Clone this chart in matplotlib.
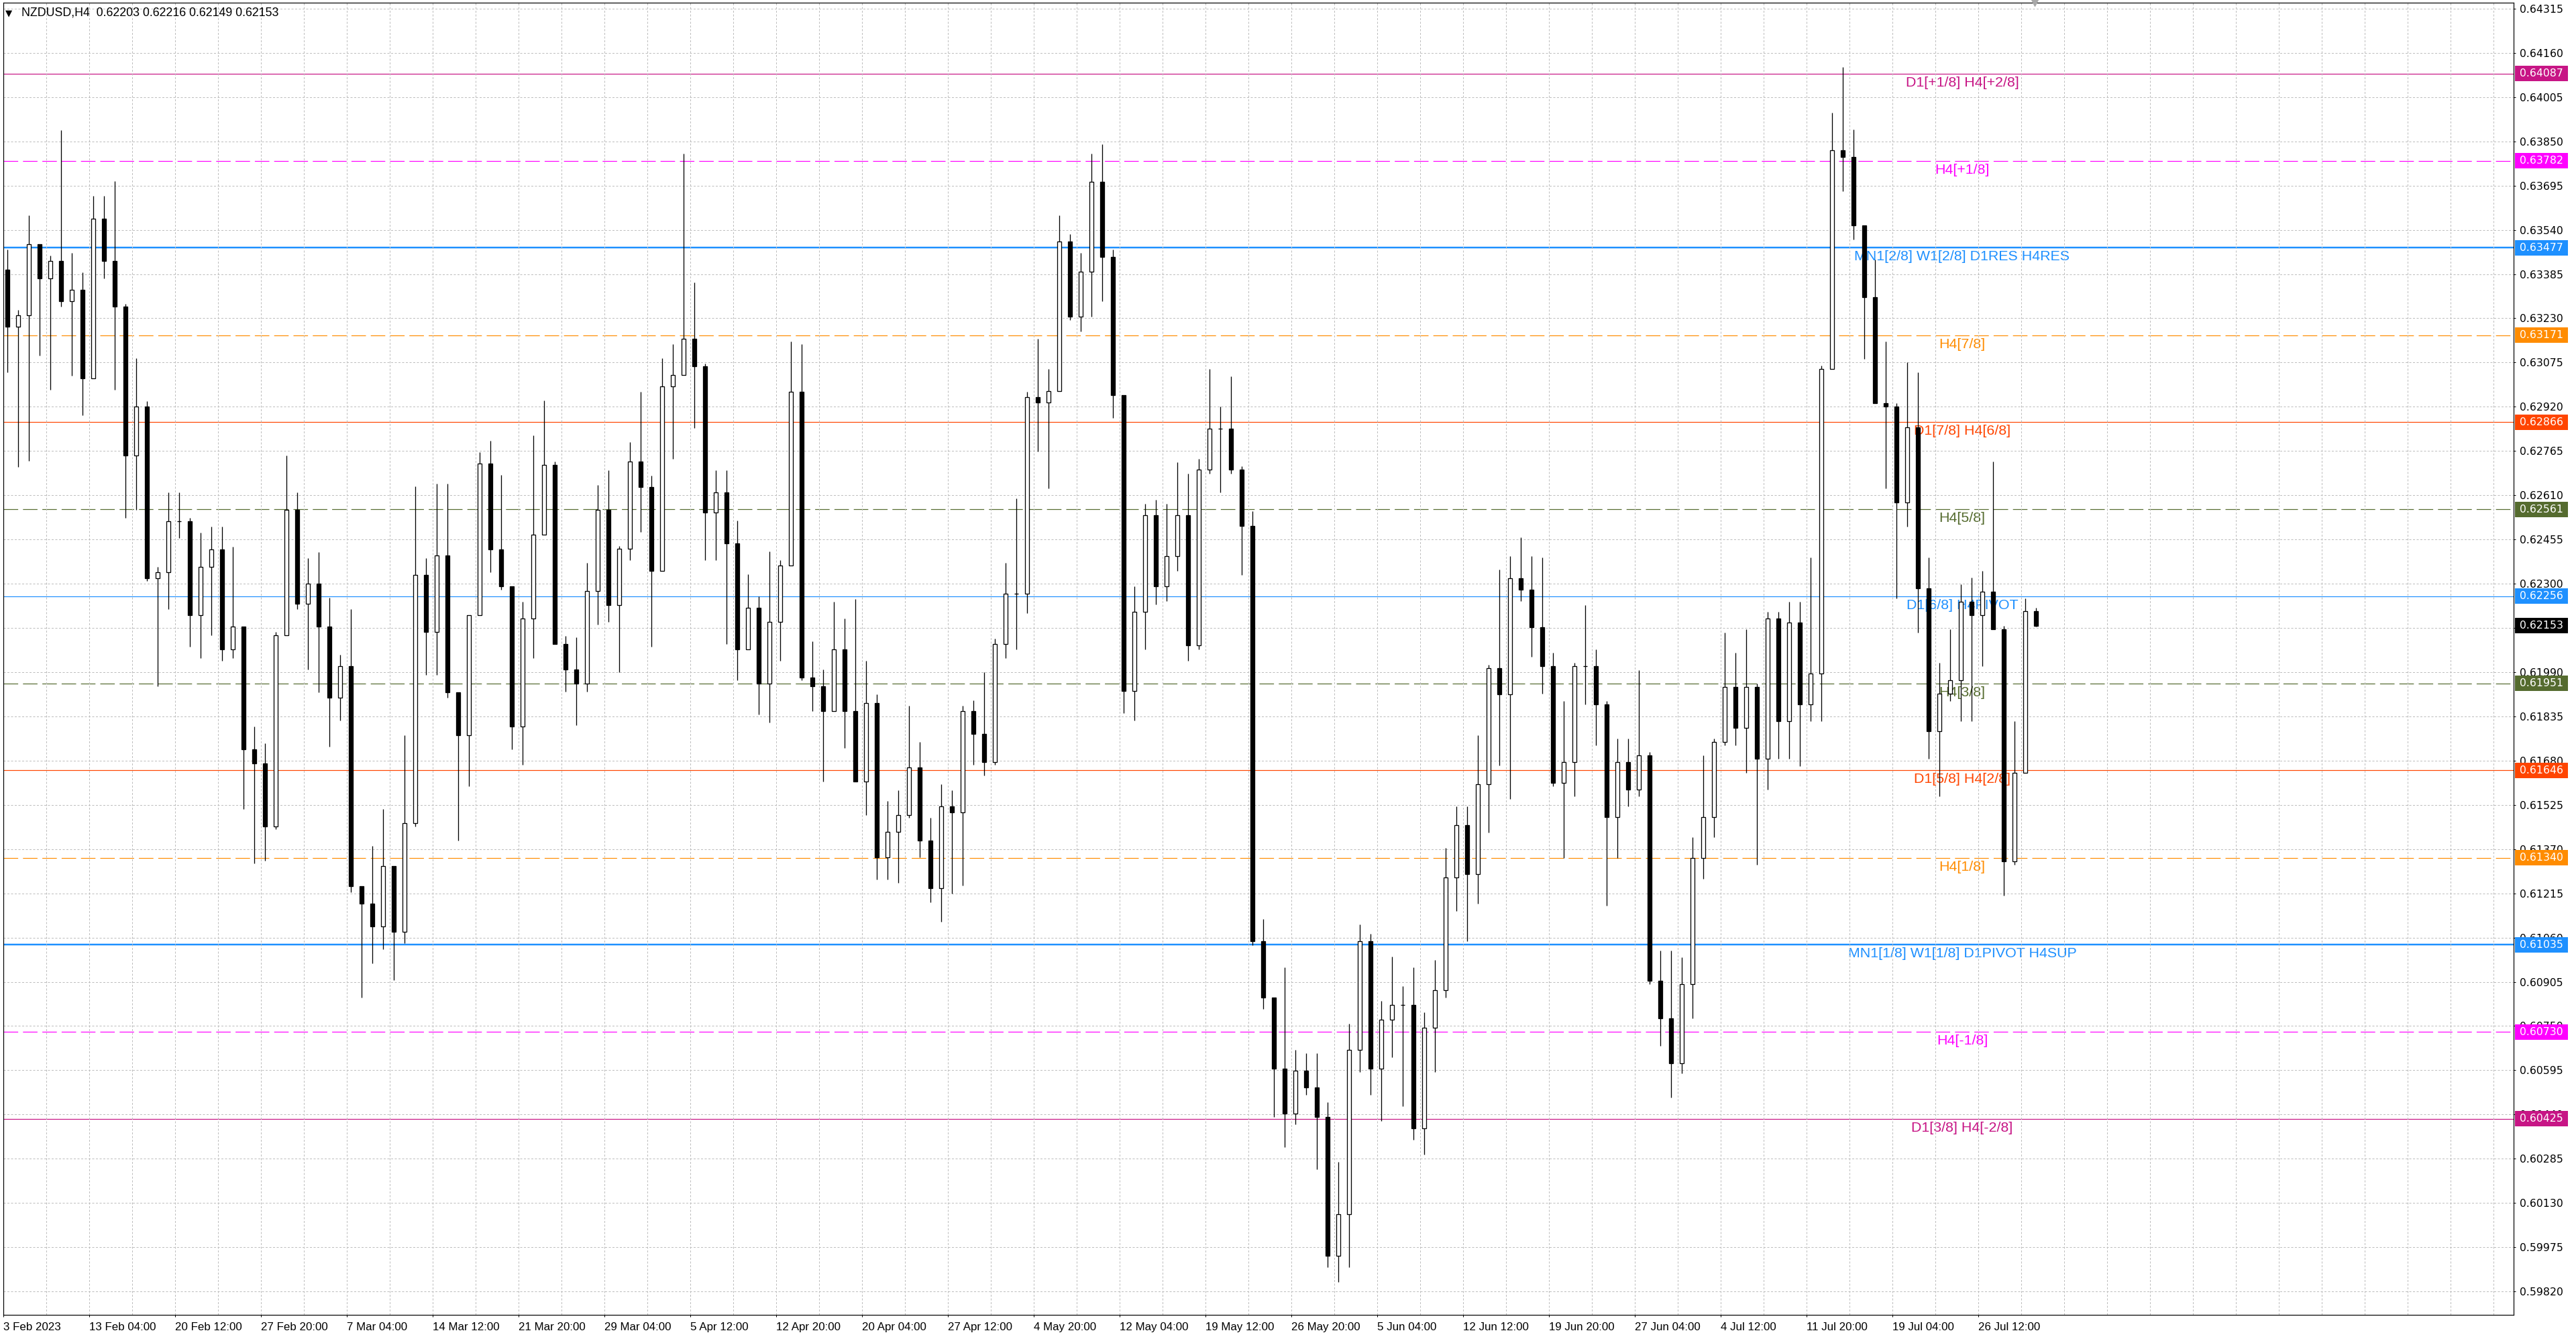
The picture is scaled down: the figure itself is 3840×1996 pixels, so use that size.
import matplotlib
matplotlib.use("Agg")
import matplotlib.pyplot as plt
from matplotlib.patches import Rectangle
from matplotlib.transforms import blended_transform_factory, offset_copy
import numpy as np

# NZDUSD H4, 3 Feb - 31 Jul 2023 in groups of 4 bars
hi = [0.6347, 0.6326, 0.6359, 0.6347, 0.6345, 0.6389, 0.6346, 0.6339, 0.6366, 0.6366,
      0.6371, 0.6328, 0.6309, 0.6294, 0.6236, 0.6262, 0.6262, 0.6253, 0.6248, 0.6250,
      0.6250, 0.6243, 0.6215, 0.6180, 0.6174, 0.6213, 0.6275, 0.6262, 0.6239, 0.6241,
      0.6225, 0.6205, 0.6221, 0.6124, 0.6138, 0.6151, 0.6131, 0.6177, 0.6264, 0.6239,
      0.6265, 0.6265, 0.6192, 0.6219, 0.6276, 0.6280, 0.6268, 0.6229,
      0.62236, 0.62819, 0.62943, 0.62727, 0.62118, 0.62112, 0.62373, 0.62645, 0.62698, 0.62432,
      0.62796, 0.62973, 0.62678, 0.63091, 0.63140, 0.63808, 0.63356, 0.63071, 0.62698, 0.62698,
      0.62521, 0.62334, 0.62255, 0.62413, 0.62383, 0.63150, 0.63140, 0.62098, 0.62000, 0.62236,
      0.62177, 0.62246, 0.62029, 0.61912, 0.61538, 0.61577, 0.61872, 0.61745, 0.61479, 0.61597,
      0.61577, 0.61872, 0.61892, 0.61990, 0.62108, 0.62373, 0.62599, 0.62973,
      0.63158, 0.63053, 0.63590, 0.63525, 0.63459, 0.63808, 0.63839, 0.63472, 0.62961, 0.62292,
      0.62581, 0.62594, 0.62581, 0.62725, 0.62686, 0.62738, 0.63053, 0.62922, 0.63027, 0.62712,
      0.62555, 0.61126, 0.60850, 0.60955, 0.60667, 0.60654, 0.60654, 0.60483, 0.60273, 0.60758,
      0.61107, 0.61073, 0.60837, 0.60994, 0.60890, 0.60955, 0.60798, 0.60981, 0.61375, 0.61519,
      0.61519, 0.61768, 0.62017, 0.62350, 0.62397, 0.62463, 0.62397,
      0.62393, 0.62058, 0.61890, 0.62022, 0.62225, 0.62070, 0.61890, 0.61758, 0.61758, 0.61998,
      0.61710, 0.61015, 0.61015, 0.60991, 0.61411, 0.61698, 0.61758, 0.62129, 0.62058, 0.62141,
      0.61950, 0.62201, 0.62201, 0.62237, 0.62237, 0.62393, 0.63064, 0.63950, 0.64111, 0.63891,
      0.63555, 0.63435, 0.63148, 0.62932, 0.63076, 0.63040, 0.62393, 0.62022, 0.62141, 0.62297,
      0.62321, 0.62345, 0.62728, 0.62153, 0.61818, 0.62249, 0.62216]
lo = [0.6304, 0.6271, 0.6273, 0.6310, 0.6298, 0.6327, 0.6303, 0.6289, 0.6308, 0.6337,
      0.6298, 0.6253, 0.6256, 0.6231, 0.6194, 0.6221, 0.6246, 0.6208, 0.6204, 0.6212,
      0.6203, 0.6204, 0.6151, 0.6132, 0.6133, 0.6144, 0.6213, 0.6221, 0.6200, 0.6192,
      0.6173, 0.6182, 0.6122, 0.6085, 0.6097, 0.6102, 0.6091, 0.6104, 0.6145, 0.6198,
      0.6198, 0.6190, 0.6140, 0.6159, 0.6219, 0.6234, 0.6228, 0.6172,
      0.61666, 0.62039, 0.62472, 0.62088, 0.61921, 0.61804, 0.61921, 0.62157, 0.62167, 0.61990,
      0.62383, 0.62481, 0.62079, 0.62344, 0.62737, 0.63032, 0.62845, 0.62383, 0.62383, 0.62088,
      0.61961, 0.62069, 0.61843, 0.61813, 0.62029, 0.62363, 0.61961, 0.61853, 0.61607, 0.61853,
      0.61725, 0.61607, 0.61489, 0.61263, 0.61263, 0.61253, 0.61479, 0.61342, 0.61184, 0.61116,
      0.61214, 0.61243, 0.61666, 0.61627, 0.61666, 0.62039, 0.62069, 0.62196,
      0.62764, 0.62633, 0.62987, 0.63223, 0.63184, 0.63236, 0.63289, 0.62882, 0.61847, 0.61820,
      0.62070, 0.62227, 0.62240, 0.62345, 0.62030, 0.62070, 0.62686, 0.62620, 0.62686, 0.62332,
      0.61034, 0.60811, 0.60431, 0.60326, 0.60405, 0.60509, 0.60247, 0.59906, 0.59854, 0.59906,
      0.60588, 0.60509, 0.60418, 0.60641, 0.60470, 0.60352, 0.60300, 0.60588, 0.60850, 0.61152,
      0.61047, 0.61178, 0.61427, 0.61663, 0.61545, 0.62240, 0.62043,
      0.61914, 0.61590, 0.61339, 0.61554, 0.61878, 0.61734, 0.61171, 0.61339, 0.61519, 0.61554,
      0.60896, 0.60680, 0.60500, 0.60584, 0.60776, 0.61267, 0.61411, 0.61734, 0.61734, 0.61638,
      0.61315, 0.61578, 0.61686, 0.61686, 0.61662, 0.61818, 0.61818, 0.63052, 0.63675, 0.63507,
      0.63088, 0.62932, 0.62633, 0.62249, 0.62501, 0.62129, 0.61686, 0.61554, 0.61890, 0.61818,
      0.61818, 0.62010, 0.62141, 0.61207, 0.61315, 0.61638, 0.62149]
cl = [0.6320, 0.6324, 0.6349, 0.6337, 0.6343, 0.6329, 0.6333, 0.6302, 0.6358, 0.6343,
      0.6327, 0.6275, 0.6292, 0.6232, 0.6234, 0.6252, 0.6252, 0.6219, 0.6236, 0.6242,
      0.6207, 0.6215, 0.6172, 0.6167, 0.6145, 0.6212, 0.6256, 0.6223, 0.6230, 0.6215,
      0.6190, 0.6201, 0.6124, 0.6118, 0.6110, 0.6131, 0.6108, 0.6146, 0.6233, 0.6213,
      0.6240, 0.6192, 0.6177, 0.6219, 0.6272, 0.6242, 0.6229, 0.6180,
      0.62177, 0.62472, 0.62717, 0.62088, 0.62000, 0.61951, 0.62275, 0.62560, 0.62226, 0.62422,
      0.62727, 0.62639, 0.62344, 0.62992, 0.63032, 0.63159, 0.63061, 0.62550, 0.62619, 0.62442,
      0.62069, 0.62216, 0.61951, 0.62167, 0.62363, 0.62973, 0.61971, 0.61941, 0.61853, 0.62069,
      0.61853, 0.61607, 0.61882, 0.61342, 0.61430, 0.61489, 0.61656, 0.61401, 0.61234, 0.61519,
      0.61499, 0.61853, 0.61774, 0.61676, 0.62088, 0.62265, 0.62265, 0.62953,
      0.62935, 0.62974, 0.63498, 0.63236, 0.63394, 0.63708, 0.63446, 0.62961, 0.61925, 0.62201,
      0.62541, 0.62292, 0.62397, 0.62541, 0.62083, 0.62699, 0.62843, 0.62843, 0.62699, 0.62502,
      0.61047, 0.60850, 0.60601, 0.60444, 0.60593, 0.60536, 0.60431, 0.59946, 0.60090, 0.60667,
      0.61047, 0.60601, 0.60772, 0.60824, 0.60824, 0.60391, 0.60745, 0.60876, 0.61270, 0.61453,
      0.61283, 0.61597, 0.62004, 0.61912, 0.62319, 0.62279, 0.62148,
      0.62010, 0.61602, 0.61674, 0.62010, 0.62010, 0.61878, 0.61483, 0.61674, 0.61578, 0.61698,
      0.60908, 0.60776, 0.60620, 0.60896, 0.61339, 0.61483, 0.61746, 0.61938, 0.61794, 0.61938,
      0.61686, 0.62177, 0.61818, 0.62165, 0.61878, 0.61986, 0.63052, 0.63819, 0.63795, 0.63555,
      0.63303, 0.62932, 0.62920, 0.62585, 0.62848, 0.62285, 0.61782, 0.61914, 0.61962, 0.62237,
      0.62189, 0.62273, 0.62141, 0.61327, 0.61638, 0.62203, 0.62153]
first_open = 0.6340
last_bar = [0.62203, 0.62216, 0.62149, 0.62153]   # O H L C shown in the header

# murrey math levels drawn by the indicator
lvl_price = [0.64087, 0.63782, 0.63477, 0.63171, 0.62866, 0.62561, 0.62256,
             0.61951, 0.61646, 0.61340, 0.61035, 0.60730, 0.60425]
lvl_name = ["D1[+1/8] H4[+2/8]", "H4[+1/8]", "MN1[2/8] W1[2/8] D1RES H4RES", "H4[7/8]",
            "D1[7/8] H4[6/8]", "H4[5/8]", "D1[6/8] H4PIVOT", "H4[3/8]", "D1[5/8] H4[2/8]",
            "H4[1/8]", "MN1[1/8] W1[1/8] D1PIVOT H4SUP", "H4[-1/8]", "D1[3/8] H4[-2/8]"]
lvl_color = ["#C71585", "#FF00FF", "#1E90FF", "#FF8C00", "#FF4500", "#556B2F", "#1E90FF",
             "#556B2F", "#FF4500", "#FF8C00", "#1E90FF", "#FF00FF", "#C71585"]
lvl_dashed = [False, True, False, True, False, True, False, True, False, True, False, True, False]
lvl_thick = [False, False, True, False, False, False, False, False, False, False, True, False, False]

date_labels = ["3 Feb 2023", "13 Feb 04:00", "20 Feb 12:00", "27 Feb 20:00", "7 Mar 04:00",
               "14 Mar 12:00", "21 Mar 20:00", "29 Mar 04:00", "5 Apr 12:00", "12 Apr 20:00",
               "20 Apr 04:00", "27 Apr 12:00", "4 May 20:00", "12 May 04:00", "19 May 12:00",
               "26 May 20:00", "5 Jun 04:00", "12 Jun 12:00", "19 Jun 20:00", "27 Jun 04:00",
               "4 Jul 12:00", "11 Jul 20:00", "19 Jul 04:00", "26 Jul 12:00"]
price_ticks = [0.64315, 0.64160, 0.64005, 0.63850, 0.63695, 0.63540, 0.63385, 0.63230,
               0.63075, 0.62920, 0.62765, 0.62610, 0.62455, 0.62300, 0.62145, 0.61990,
               0.61835, 0.61680, 0.61525, 0.61370, 0.61215, 0.61060, 0.60905, 0.60750,
               0.60595, 0.60440, 0.60285, 0.60130, 0.59975, 0.59820]

W, H = 3840, 1996
PX = 0.72  # one pixel in points at dpi 100
fig = plt.figure(figsize=(W / 100, H / 100), dpi=100)
ax = fig.add_axes([5 / W, 36 / H, 3742 / W, 1956 / H])
ax.set_xlim(0, 935.5)
ax.set_ylim(0.59738, 0.64336)

# grid
ax.set_xticks(np.arange(0, 32 * len(date_labels), 32))
ax.set_xticks(np.arange(0, 936, 16), minor=True)
ax.set_yticks(price_ticks)
ax.grid(which="both", color="#bdbdbd", lw=PX, linestyle=(0, (3, 2.5)), zorder=0)

# levels + their labels
lab_off = offset_copy(ax.transData, fig=fig, y=-4, units="dots")
for p, name, c, d, t in zip(lvl_price, lvl_name, lvl_color, lvl_dashed, lvl_thick):
    ls = (0, (18, 6)) if d else "-"
    ax.axhline(p, color=c, lw=(2.5 if t else 1.2) * PX, linestyle=ls, zorder=1)
    ax.text(730, p, name, color=c, ha="center", va="top", fontsize=15.4,
            family="Liberation Sans", transform=lab_off, zorder=1.5)

# candles, one per 4-bar group
hi = np.array(hi)
lo = np.array(lo)
cl = np.array(cl)
op = np.r_[first_open, cl[:-1]]
x = np.arange(len(cl)) * 4 + 1.5
top = np.maximum(hi, np.maximum(op, cl))
bot = np.minimum(lo, np.minimum(op, cl))
ax.vlines(x, bot, top, color="black", lw=1.3 * PX, zorder=3)
up = cl >= op
ax.bar(x, np.abs(cl - op), bottom=np.minimum(op, cl), width=1.6,
       color=np.where(up, "white", "black"), edgecolor="black", lw=1.3 * PX, zorder=4)

# axes look
for s in ax.spines.values():
    s.set_color("black")
    s.set_linewidth(1.2 * PX)
ax.yaxis.tick_right()
ax.set_yticklabels([f"{v:.5f}" for v in price_ticks], family="DejaVu Sans", fontsize=11.3)
ax.set_xticklabels(date_labels, family="Liberation Sans", fontsize=12.2, ha="left")
ax.tick_params(axis="y", which="major", length=3 * PX, width=PX, pad=6 * PX, colors="black")
ax.tick_params(axis="x", which="major", length=3 * PX, width=PX, pad=8 * PX, colors="black")
ax.tick_params(axis="x", which="minor", length=0)

# price boxes on the right scale
bt = blended_transform_factory(ax.transAxes, ax.transData)
box_h = 23 / 1956 * (0.64336 - 0.59738)
boxes = list(zip(lvl_price, lvl_color)) + [(last_bar[3], "black")]
for p, c in boxes:
    ax.add_patch(Rectangle((1.0005, p - box_h / 2), 79 / 3742, box_h, transform=bt,
                           facecolor=c, edgecolor="none", clip_on=False, zorder=5))
    ax.text(1.0025, p, f"{p:.5f}", transform=bt, color="white", ha="left", va="center",
            fontsize=11.3, family="DejaVu Sans", clip_on=False, zorder=6)

# chart shift marker
ax.plot([757], [0.64336], marker="v", color="#a8a8a8", ms=7, clip_on=False, zorder=6)

# header
fig.text(8 / W, 1 - 19.5 / H, "\u25bc", fontsize=9.5, family="DejaVu Sans", va="center")
fig.text(32 / W, 1 - 19.5 / H, "NZDUSD,H4  " + " ".join(f"{v:.5f}" for v in last_bar),
         fontsize=12.8, family="Liberation Sans", va="center")

fig.savefig("out.png", dpi=100, facecolor="white")
